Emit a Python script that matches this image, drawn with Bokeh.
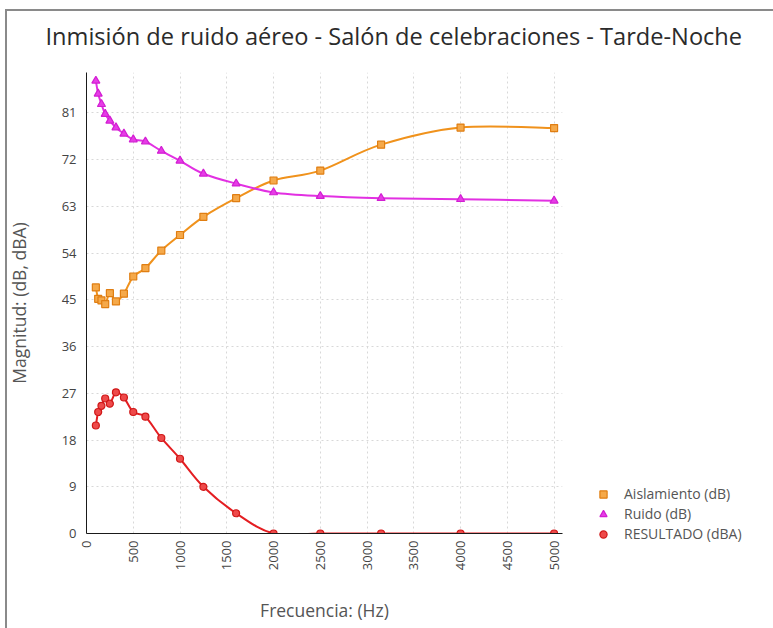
import numpy as np
from bokeh.plotting import figure
from bokeh.models import FixedTicker, Legend, LegendItem, Range1d, Title
from bokeh.embed import file_html
from bokeh.resources import INLINE

# Third-octave band centre frequencies (Hz)
frecuencias = [100, 125, 160, 200, 250, 315, 400, 500, 630, 800,
               1000, 1250, 1600, 2000, 2500, 3150, 4000, 5000]
# Sound insulation of the partition (dB)
aislamiento = [47.4, 45.2, 44.9, 44.2, 46.3, 44.7, 46.2, 49.5, 51.1, 54.5,
               57.5, 61.0, 64.6, 68.0, 69.9, 74.9, 78.2, 78.1]
# Emitted noise level (dB)
ruido = [87.2, 84.7, 82.7, 80.8, 79.5, 78.2, 77.0, 75.9, 75.5, 73.7,
         71.8, 69.3, 67.4, 65.7, 65.0, 64.6, 64.4, 64.1]
# Resulting immission level (dBA)
resultado = [20.8, 23.4, 24.6, 26.0, 25.0, 27.2, 26.2, 23.4, 22.5, 18.4,
             14.4, 9.0, 3.9, 0.0, 0.0, 0.0, 0.0, 0.0]

y_ticks = [0, 9, 18, 27, 36, 45, 54, 63, 72, 81]
x_ticks = [0, 500, 1000, 1500, 2000, 2500, 3000, 3500, 4000, 4500, 5000]

FONT = "Open Sans"


def bezier_segments(xs, ys):
    """Catmull-Rom curve through the points, expressed as cubic Bezier segments."""
    x = np.asarray(xs, dtype=float)
    y = np.asarray(ys, dtype=float)
    n = len(x)
    xp = np.concatenate([[x[0]], x, [x[-1]]])
    yp = np.concatenate([[y[0]], y, [y[-1]]])
    return dict(
        x0=x[:-1], y0=y[:-1], x1=x[1:], y1=y[1:],
        cx0=x[:-1] + (xp[2:n + 1] - xp[0:n - 1]) / 6.0,
        cy0=y[:-1] + (yp[2:n + 1] - yp[0:n - 1]) / 6.0,
        cx1=x[1:] - (xp[3:n + 2] - xp[1:n]) / 6.0,
        cy1=y[1:] - (yp[3:n + 2] - yp[1:n]) / 6.0,
    )


p = figure(width=773, height=628, frame_width=476, frame_height=461,
           output_backend="svg", toolbar_location=None,
           x_range=Range1d(0, 5090), y_range=Range1d(0, 88.8),
           min_border_left=86, min_border_right=211,
           min_border_top=72, min_border_bottom=95)

p.border_fill_color = None
p.background_fill_color = "white"
p.outline_line_color = None
p.styles = {
    "background": "linear-gradient(#8a8a8a, #8a8a8a) 5px 9px / 2px 640px no-repeat, "
                  "linear-gradient(#8a8a8a, #8a8a8a) 5px 9px / 800px 2px no-repeat, white"
}

p.title = Title(text="Inmisión de ruido aéreo - Salón de celebraciones - Tarde-Noche",
                align="left", offset=-41, standoff=38, vertical_align="top",
                text_font=FONT, text_font_size="23.6px", text_font_style="normal",
                text_color="#2b2b2b")

# Axes
for ax in (p.xaxis[0], p.yaxis[0]):
    ax.axis_line_color = "#1a1a1a"
    ax.axis_line_width = 1
    ax.major_tick_line_color = None
    ax.minor_tick_line_color = None
    ax.major_tick_out = 0
    ax.major_tick_in = 0
    ax.minor_tick_out = 0
    ax.minor_tick_in = 0
    ax.major_label_text_font = FONT
    ax.major_label_text_font_size = "13px"
    ax.major_label_text_color = "#444444"
    ax.axis_label_text_font = FONT
    ax.axis_label_text_font_size = "17.5px"
    ax.axis_label_text_font_style = "normal"
    ax.axis_label_text_color = "#555555"

p.xaxis.ticker = FixedTicker(ticks=x_ticks)
p.yaxis.ticker = FixedTicker(ticks=y_ticks)
p.xaxis.major_label_orientation = np.pi / 2
p.xaxis.major_label_standoff = 7
p.yaxis.major_label_standoff = 10
p.xaxis.axis_label = "Frecuencia: (Hz)"
p.yaxis.axis_label = "Magnitud: (dB, dBA)"
p.xaxis.axis_label_standoff = 25
p.yaxis.axis_label_standoff = 28

# Dotted grid
for g in (p.xgrid[0], p.ygrid[0]):
    g.grid_line_color = "#d8d8d8"
    g.grid_line_dash = "2 3"
    g.grid_line_width = 1

series = [
    ("Aislamiento (dB)", aislamiento, "#F0921C", "square", 7, "#F5A94A", "#E07E12"),
    ("Ruido (dB)", ruido, "#E230E2", "triangle", 8, "#E63CE6", "#D21ED2"),
    ("RESULTADO (dBA)", resultado, "#E41E22", "circle", 7, "#EE4A4A", "#D01818"),
]

items = []
for label, vals, line_col, marker, size, fill, edge in series:
    p.bezier(line_color=line_col, line_width=2, **bezier_segments(frecuencias, vals))
    r = p.scatter(frecuencias, vals, marker=marker, size=size,
                  fill_color=fill, line_color=edge, line_width=1.2)
    items.append(LegendItem(label=label, renderers=[r]))

# Legend in the right-hand panel, reaching slightly below the frame's bottom edge
legend = Legend(items=items, location=(32, -10), orientation="vertical",
                glyph_width=18, glyph_height=18, label_height=17,
                label_standoff=12, spacing=1, padding=0, margin=0,
                label_text_font=FONT, label_text_font_size="14px",
                label_text_color="#555555",
                border_line_color=None, background_fill_alpha=0)
p.add_layout(legend, "right")

open("out.html", "w").write(file_html(p, INLINE))
